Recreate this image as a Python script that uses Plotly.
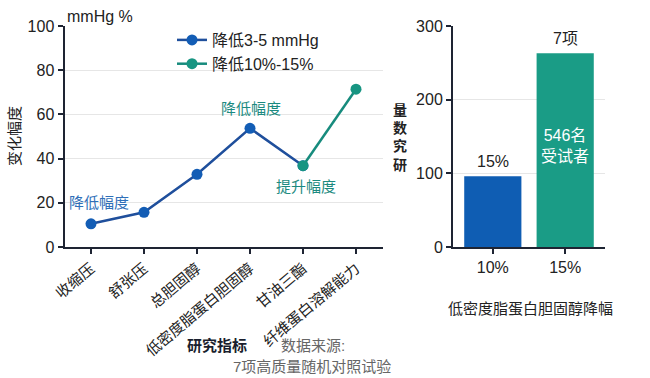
import plotly.graph_objects as go

# ---- data ----
indicators = ["收缩压", "舒张压", "总胆固醇", "低密度脂蛋白胆固醇", "甘油三酯", "纤维蛋白溶解能力"]
series1_name = "降低3-5 mmHg"
series1_x = ["收缩压", "舒张压", "总胆固醇", "低密度脂蛋白胆固醇", "甘油三酯"]
series1_y = [10.5, 15.7, 32.9, 53.7, 36.8]
series2_name = "降低10%-15%"
series2_x = ["甘油三酯", "纤维蛋白溶解能力"]
series2_y = [36.8, 71.4]

bar_cats = ["10%", "15%"]
bar_vals = [96, 263]
bar_top_labels = ["15%", "7项"]
bar_inner_label = "546名<br>受试者"

left_yticks = [0, 20, 40, 60, 80, 100]
right_yticks = [0, 100, 200, 300]

BLUE_LINE = "#1f4f9c"
BLUE_MARK = "#135db5"
TEAL_LINE = "#178b7d"
TEAL_MARK = "#179582"
BLUE_BAR = "#0f5db3"
TEAL_BAR = "#1a9c86"
AX = "#1e2433"
GRID = "#e6e6e6"
FONT = "Liberation Sans, Arial, Noto Sans CJK SC, sans-serif"

W, H = 650, 378
def px_x(p): return p / W
def px_y(p): return 1 - p / H

fig = go.Figure()
fig.add_trace(go.Scatter(
    x=series1_x, y=series1_y, mode="lines+markers", name=series1_name,
    line=dict(color=BLUE_LINE, width=2.5),
    marker=dict(color=BLUE_MARK, size=11), xaxis="x", yaxis="y"))
fig.add_trace(go.Scatter(
    x=series2_x, y=series2_y, mode="lines+markers", name=series2_name,
    line=dict(color=TEAL_LINE, width=2.5),
    marker=dict(color=TEAL_MARK, size=11), xaxis="x", yaxis="y"))
fig.add_trace(go.Bar(
    x=bar_cats, y=bar_vals, marker=dict(color=[BLUE_BAR, TEAL_BAR], line=dict(width=0)),
    width=0.79, showlegend=False, xaxis="x2", yaxis="y2"))

ydom = [px_y(247), px_y(26)]
axis_common = dict(showline=True, linecolor=AX, linewidth=2, ticks="outside",
                   tickcolor=AX, ticklen=5, tickwidth=1.5, zeroline=False,
                   automargin=False)
tickf = dict(size=16, color="#222222", family=FONT)

fig.update_layout(
    width=W, height=H, margin=dict(l=0, r=0, t=0, b=0, autoexpand=False),
    paper_bgcolor="white", plot_bgcolor="white",
    font=dict(family=FONT, color="#222222"),
    xaxis=dict(domain=[px_x(64.5), px_x(382.5)], categoryorder="array",
               categoryarray=indicators, range=[-0.5, 5.5], showgrid=False,
               tickangle=-40, anchor="y", tickfont=dict(size=15, color="#222222", family=FONT),
               **axis_common),
    yaxis=dict(domain=ydom, range=[0, 100], tickvals=left_yticks, showgrid=True,
               gridcolor=GRID, gridwidth=1, anchor="x", tickfont=tickf, **axis_common),
    xaxis2=dict(domain=[px_x(453), px_x(605)], range=[-0.55, 1.55], showgrid=False,
                anchor="y2", tickfont=tickf, **axis_common),
    yaxis2=dict(domain=ydom, range=[0, 300], tickvals=right_yticks, showgrid=True,
                gridcolor=GRID, gridwidth=1, anchor="x2", tickfont=tickf, **axis_common),
    legend=dict(x=px_x(172), y=px_y(23), xanchor="left", yanchor="top",
                bgcolor="rgba(0,0,0,0)", font=dict(size=16, color="#222222"),
                tracegroupgap=0, itemwidth=30),
    bargap=0.2,
)

ann = []
# text annotations inside line chart (tied to data points)
ann.append(dict(x=series1_x[0], y=series1_y[0], xref="x", yref="y", text="降低幅度",
                showarrow=False, font=dict(size=15, color="#2f6fb8"), xshift=8, yshift=21))
ann.append(dict(x=series1_x[3], y=series1_y[3], xref="x", yref="y", text="降低幅度",
                showarrow=False, font=dict(size=15, color="#1c8a80"), xshift=1, yshift=20))
ann.append(dict(x=series2_x[0], y=series2_y[0], xref="x", yref="y", text="提升幅度",
                showarrow=False, font=dict(size=15, color="#1c8a80"), xshift=3, yshift=-21))
# bar labels
for c, v, t in zip(bar_cats, bar_vals, bar_top_labels):
    ann.append(dict(x=c, y=v, xref="x2", yref="y2", text=t, showarrow=False,
                    yanchor="bottom", yshift=4, font=dict(size=16, color="#222222")))
ann.append(dict(x=bar_cats[1], y=bar_vals[1] * 0.52, xref="x2", yref="y2",
                text=bar_inner_label, showarrow=False,
                font=dict(size=16, color="white")))

def note(xp, yp, text, size, color, xanchor="center", angle=0):
    ann.append(dict(x=px_x(xp), y=px_y(yp), xref="paper", yref="paper", text=text,
                    showarrow=False, xanchor=xanchor, yanchor="middle", textangle=angle,
                    font=dict(size=size, color=color)))

note(65, 16, "mmHg %", 16, "#222222", xanchor="left")
note(14, 136, "变化幅度", 15, "#222222", angle=-90)
note(400, 137, "<b>量<br>数<br>究<br>研</b>", 14, "#222222")
note(530, 308, "低密度脂蛋白胆固醇降幅", 15, "#222222")
note(217, 345, "<b>研究指标</b>", 15, "#1a1f2e")
note(313, 345, "数据来源:", 15, "#666666")
note(312, 366, "7项高质量随机对照试验", 15, "#666666")
fig.update_layout(annotations=ann)

fig.write_html("out.html", config={"displayModeBar": False},
               post_script="document.body.style.margin='0';document.body.style.overflow='hidden';")
